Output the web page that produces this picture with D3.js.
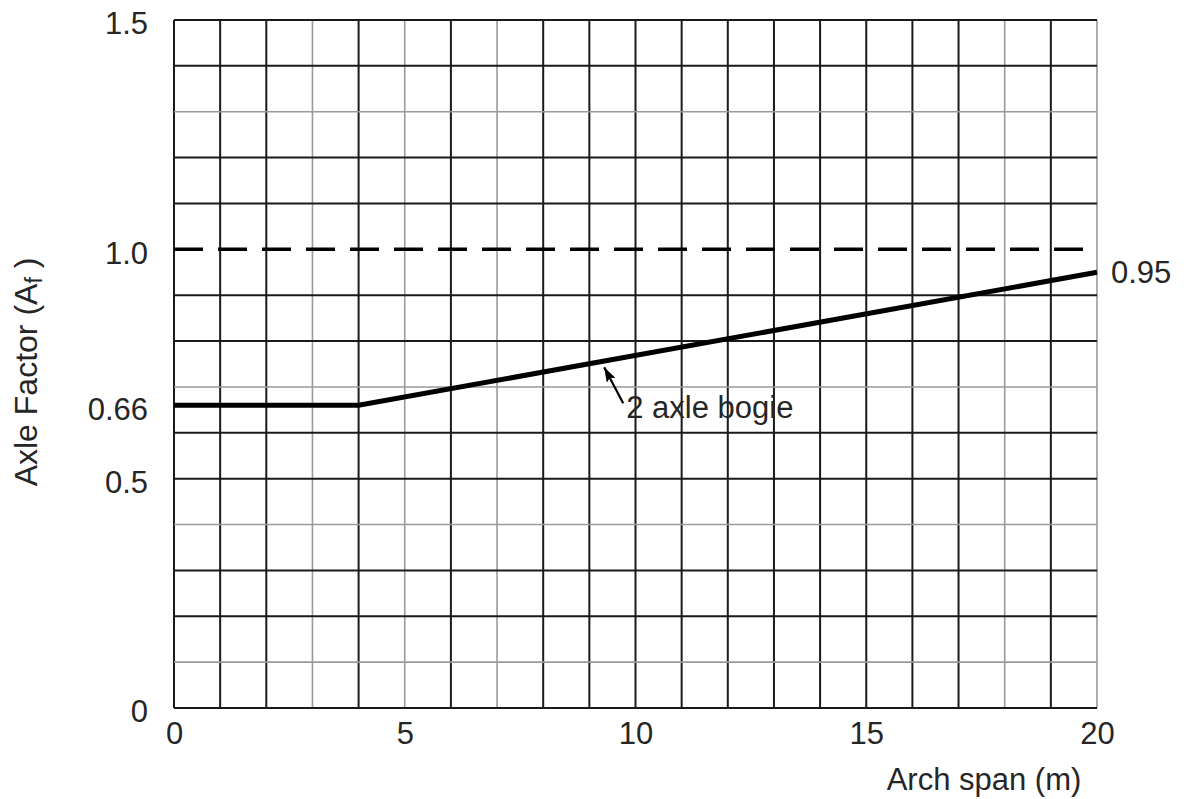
<!DOCTYPE html>
<html>
<head>
<meta charset="utf-8">
<script src="https://cdn.jsdelivr.net/npm/d3@7"></script>
<style>
  html, body { margin: 0; padding: 0; background: #fff; }
  svg { display: block; }
  text { font-family: "Liberation Sans", Arial, Helvetica, sans-serif; fill: #262626; }
</style>
</head>
<body>
<svg id="chart" width="1187" height="799"></svg>
<script>
// ---- data ----
const spanValues   = [0, 4, 20];          // arch span (m)
const factorValues = [0.66, 0.66, 0.95];  // axle factor
const referenceLevel = 1.0;               // dashed reference line
const xTickValues = [0, 5, 10, 15, 20];
const xTickLabels = ["0", "5", "10", "15", "20"];
const yTickValues = [0, 0.5, 0.66, 1.0, 1.5];
const yTickLabels = ["0", "0.5", "0.66", "1.0", "1.5"];
const xGridValues = d3.range(0, 21, 1);
const xGridLight  = [3, 5, 7, 18, 20];
const yGridValues = [0, 0.1, 0.2, 0.3, 0.4, 0.5, 0.6, 0.7, 0.8, 0.9, 1.1, 1.2, 1.3, 1.4, 1.5];
const yGridLight  = [0.1, 0.4, 0.7, 1.3];
const endLabel = "0.95";
const seriesLabel = "2 axle bogie";
const seriesLabelAt = 9.3;     // x position (m) the arrow points to
const xTitle = "Arch span (m)";

// ---- layout ----
const svg = d3.select("#chart");
const x = d3.scaleLinear().domain([0, 20]).range([174, 1097]);
const y = d3.scaleLinear().domain([0, 1.5]).range([708, 20]);
const FS = 31;

const isLight = (arr, v) => arr.some(a => Math.abs(a - v) < 1e-6);

// grid: light lines first, dark on top
const gx = svg.append("g");
const xs = xGridValues.slice().sort((a, b) => isLight(xGridLight, b) - isLight(xGridLight, a));
gx.selectAll("line").data(xs).join("line")
  .attr("x1", d => x(d)).attr("x2", d => x(d))
  .attr("y1", y(0)).attr("y2", y(1.5))
  .attr("stroke", d => isLight(xGridLight, d) ? "#9a9a9a" : "#1a1a1a")
  .attr("stroke-width", d => isLight(xGridLight, d) ? 1.6 : 2);

const gy = svg.append("g");
const ys = yGridValues.slice().sort((a, b) => isLight(yGridLight, b) - isLight(yGridLight, a));
gy.selectAll("line").data(ys).join("line")
  .attr("y1", d => y(d)).attr("y2", d => y(d))
  .attr("x1", x(0)).attr("x2", x(20))
  .attr("stroke", d => isLight(yGridLight, d) ? "#9a9a9a" : "#1a1a1a")
  .attr("stroke-width", d => isLight(yGridLight, d) ? 1.6 : 2);

// dashed reference line
svg.append("line")
  .attr("x1", x(0)).attr("x2", x(20))
  .attr("y1", y(referenceLevel)).attr("y2", y(referenceLevel))
  .attr("stroke", "#000").attr("stroke-width", 3.5)
  .attr("stroke-dasharray", "29,15");

// series line
const pts = spanValues.map((s, i) => [s, factorValues[i]]);
svg.append("path")
  .datum(pts)
  .attr("fill", "none")
  .attr("stroke", "#000")
  .attr("stroke-width", 5)
  .attr("stroke-linejoin", "miter")
  .attr("d", d3.line().x(d => x(d[0])).y(d => y(d[1])));

// x axis labels
const xAxis = svg.append("g")
  .attr("transform", `translate(0,${y(0)})`)
  .call(d3.axisBottom(x).tickValues(xTickValues).tickSize(0).tickPadding(14)
        .tickFormat((d, i) => xTickLabels[i]));
xAxis.select(".domain").remove();
xAxis.selectAll("text").style("font-size", FS + "px").attr("fill", "#262626")
  .attr("font-family", null);

// y axis labels
const yAxis = svg.append("g")
  .attr("transform", `translate(${x(0)},0)`)
  .call(d3.axisLeft(y).tickValues(yTickValues).tickSize(0).tickPadding(26)
        .tickFormat((d, i) => yTickLabels[i]));
yAxis.select(".domain").remove();
yAxis.selectAll("text").style("font-size", FS + "px").attr("fill", "#262626")
  .attr("font-family", null).attr("dy", "0.45em");

// end label
const last = pts[pts.length - 1];
svg.append("text")
  .attr("x", x(last[0]) + 14).attr("y", y(last[1]) + 11)
  .style("font-size", FS + "px")
  .text(endLabel);

// series annotation with arrow
const interp = d3.scaleLinear().domain(spanValues.slice(1)).range(factorValues.slice(1));
const tipX = x(seriesLabelAt), tipY = y(interp(seriesLabelAt)) + 4;
svg.append("defs").append("marker")
  .attr("id", "ah").attr("viewBox", "0 0 15 10")
  .attr("refX", 15).attr("refY", 5)
  .attr("markerWidth", 15).attr("markerHeight", 10)
  .attr("markerUnits", "userSpaceOnUse")
  .attr("orient", "auto")
  .append("path").attr("d", "M0,0 L15,5 L0,10 L3,5 z").attr("fill", "#000");
svg.append("line")
  .attr("x1", tipX + 20).attr("y1", tipY + 38)
  .attr("x2", tipX + 1).attr("y2", tipY + 2)
  .attr("stroke", "#000").attr("stroke-width", 2.2)
  .attr("marker-end", "url(#ah)");
svg.append("text")
  .attr("x", tipX + 23).attr("y", tipY + 53)
  .style("font-size", FS + "px")
  .text(seriesLabel);

// x title
svg.append("text")
  .attr("x", 984).attr("y", 790)
  .attr("text-anchor", "middle")
  .style("font-size", FS + "px")
  .text(xTitle);

// y title
const yt = svg.append("text")
  .attr("transform", "translate(37,372) rotate(-90)")
  .attr("text-anchor", "middle")
  .style("font-size", "32px");
yt.append("tspan").text("Axle Factor (A");
yt.append("tspan").attr("dy", 5).style("font-size", "23px").text("f");
yt.append("tspan").attr("dy", -5).text(" )");
</script>
</body>
</html>
